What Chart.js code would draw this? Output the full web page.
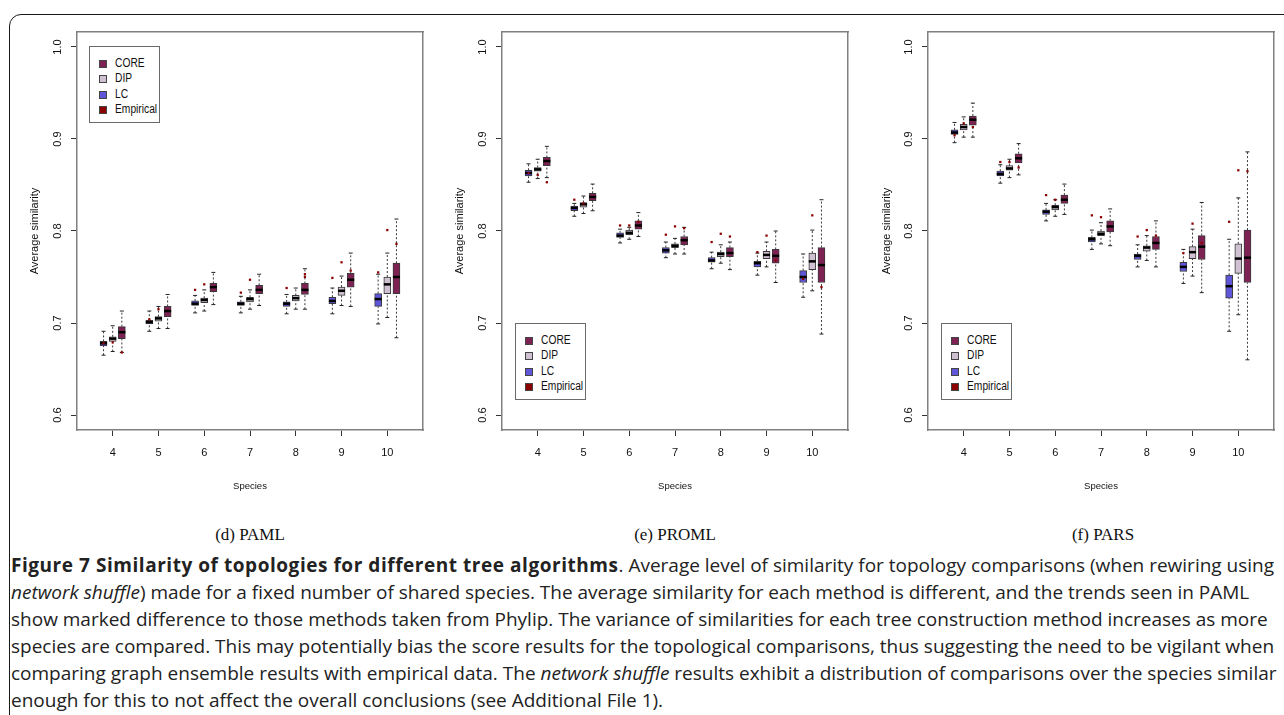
<!DOCTYPE html>
<html>
<head>
<meta charset="utf-8">
<script src="https://cdn.jsdelivr.net/npm/chart.js@4/dist/chart.umd.min.js"></script>
<style>
  html, body { margin:0; padding:0; background:#fff; }
  body { width:1284px; height:715px; position:relative; overflow:hidden; font-family:'Liberation Sans', Arial, sans-serif; }
  #frame { position:absolute; left:9px; top:14px; width:1300px; height:720px; border:1.5px solid #1a1a1a; border-radius:12px; box-sizing:border-box; }
  canvas { position:absolute; top:20px; }
  .legend { position:absolute; width:71px; height:77px; border:1px solid #6a6a6a; background:#fff; box-sizing:border-box; font-family:'Liberation Sans', Arial, sans-serif; font-size:12.5px; color:#111; }
  .legend .row { position:absolute; left:0; height:14px; line-height:14px; white-space:nowrap; }
  .legend .sw { position:absolute; left:9px; top:4px; width:6px; height:6px; border:1px solid #444; }
  .legend .tx { position:absolute; left:25px; top:0; transform:scaleX(0.82); transform-origin:0 50%; }
  .sub { position:absolute; top:535px; transform:translate(-50%,-50%); font-family:'Liberation Serif','Times New Roman',serif; font-size:17px; color:#111; white-space:nowrap; }
  #caption { position:absolute; left:11px; top:552px; font-family:'Open Sans','Noto Sans',sans-serif; font-size:19px; line-height:27px; color:#222; transform-origin:0 0; }
  #caption div { white-space:nowrap; height:27px; }
  #capBold { font-weight:700; }
</style>
</head>
<body>
<div id="frame"></div>
<canvas id="c1" width="420" height="475" style="left:12px"></canvas>
<canvas id="c2" width="418" height="475" style="left:440px"></canvas>
<canvas id="c3" width="418" height="475" style="left:866px"></canvas>

<div id="leg1" class="legend" style="left:89px; top:46px;"></div>
<div id="leg2" class="legend" style="left:515px; top:323px;"></div>
<div id="leg3" class="legend" style="left:941px; top:323px;"></div>

<div class="sub" style="left:250px">(d) PAML</div>
<div class="sub" style="left:675px">(e) PROML</div>
<div class="sub" style="left:1103px">(f) PARS</div>

<div id="caption">
  <div><span id="capBold">Figure 7 Similarity of topologies for different tree algorithms</span><span id="capRest">. Average level of similarity for topology comparisons (when rewiring using</span></div>
  <div><i>network shuffle</i>) made for a fixed number of shared species. The average similarity for each method is different, and the trends seen in PAML</div>
  <div>show marked difference to those methods taken from Phylip. The variance of similarities for each tree construction method increases as more</div>
  <div><span id="capRef">species are compared. This may potentially bias the score results for the topological comparisons, thus suggesting the need to be vigilant when</span></div>
  <div>comparing graph ensemble results with empirical data. The <i>network shuffle</i> results exhibit a distribution of comparisons over the species similar</div>
  <div>enough for this to not affect the overall conclusions (see Additional File 1).</div>
</div>

<script>
// ---------------- data ----------------
const species = [4, 5, 6, 7, 8, 9, 10];
const xTickLabels = ['4', '5', '6', '7', '8', '9', '10'];
const yTicks = [0.6, 0.7, 0.8, 0.9, 1.0];
const yTickLabels = ['0.6', '0.7', '0.8', '0.9', '1.0'];
const legendLabels = ['CORE', 'DIP', 'LC', 'Empirical'];
const methods = ['LC', 'DIP', 'CORE'];

// five-number summaries per species: [lower whisker, Q1, median, Q3, upper whisker]
const pamlLC = [
  [0.665, 0.675, 0.678, 0.680, 0.691], [0.691, 0.699, 0.701, 0.703, 0.713],
  [0.711, 0.719, 0.721, 0.724, 0.730], [0.711, 0.719, 0.721, 0.723, 0.729],
  [0.710, 0.718, 0.721, 0.723, 0.731], [0.710, 0.721, 0.724, 0.728, 0.738],
  [0.699, 0.718, 0.726, 0.732, 0.753]];
const pamlDIP = [
  [0.669, 0.680, 0.683, 0.685, 0.697], [0.694, 0.702, 0.705, 0.707, 0.718],
  [0.713, 0.722, 0.725, 0.727, 0.736], [0.715, 0.723, 0.726, 0.728, 0.736],
  [0.715, 0.724, 0.727, 0.730, 0.738], [0.719, 0.730, 0.735, 0.739, 0.751],
  [0.706, 0.732, 0.742, 0.750, 0.776]];
const pamlCORE = [
  [0.668, 0.683, 0.690, 0.696, 0.713], [0.694, 0.707, 0.713, 0.718, 0.731],
  [0.720, 0.734, 0.739, 0.743, 0.755], [0.719, 0.732, 0.736, 0.741, 0.753],
  [0.715, 0.731, 0.736, 0.743, 0.759], [0.718, 0.739, 0.747, 0.754, 0.776],
  [0.684, 0.732, 0.750, 0.765, 0.813]];
const pamlEmpirical = [
  [4, 'LC', 0.678], [4, 'DIP', 0.679], [4, 'CORE', 0.668],
  [5, 'LC', 0.704], [5, 'DIP', 0.715],
  [6, 'LC', 0.736], [6, 'DIP', 0.742],
  [7, 'LC', 0.733], [7, 'DIP', 0.747],
  [8, 'LC', 0.738], [8, 'CORE', 0.753], [8, 'CORE', 0.750],
  [9, 'LC', 0.749], [9, 'DIP', 0.766], [9, 'CORE', 0.757],
  [10, 'LC', 0.755], [10, 'DIP', 0.801], [10, 'CORE', 0.786]];

const promlLC = [
  [0.853, 0.860, 0.863, 0.866, 0.873], [0.816, 0.822, 0.825, 0.827, 0.830],
  [0.787, 0.793, 0.795, 0.798, 0.802], [0.771, 0.776, 0.779, 0.782, 0.788],
  [0.759, 0.766, 0.768, 0.771, 0.777], [0.752, 0.761, 0.765, 0.767, 0.776],
  [0.728, 0.744, 0.750, 0.757, 0.775]];
const promlDIP = [
  [0.857, 0.865, 0.867, 0.869, 0.878], [0.819, 0.826, 0.829, 0.831, 0.838],
  [0.791, 0.796, 0.798, 0.801, 0.804], [0.775, 0.782, 0.784, 0.786, 0.792],
  [0.765, 0.772, 0.775, 0.777, 0.785], [0.761, 0.770, 0.774, 0.778, 0.788],
  [0.735, 0.758, 0.767, 0.776, 0.801]];
const promlCORE = [
  [0.858, 0.871, 0.876, 0.880, 0.892], [0.822, 0.833, 0.837, 0.841, 0.851],
  [0.794, 0.802, 0.806, 0.811, 0.820], [0.775, 0.785, 0.790, 0.794, 0.804],
  [0.758, 0.772, 0.776, 0.782, 0.788], [0.744, 0.765, 0.773, 0.780, 0.800],
  [0.688, 0.744, 0.763, 0.782, 0.834]];
const promlEmpirical = [
  [4, 'LC', 0.863], [4, 'DIP', 0.861], [4, 'CORE', 0.853],
  [5, 'LC', 0.834], [5, 'DIP', 0.830],
  [6, 'LC', 0.806], [6, 'DIP', 0.806], [6, 'CORE', 0.810],
  [7, 'LC', 0.796], [7, 'DIP', 0.805], [7, 'CORE', 0.803],
  [8, 'LC', 0.788], [8, 'DIP', 0.797], [8, 'CORE', 0.794],
  [9, 'LC', 0.777], [9, 'DIP', 0.795], [9, 'CORE', 0.768],
  [10, 'LC', 0.748], [10, 'DIP', 0.817], [10, 'CORE', 0.739]];

const parsLC = [
  [0.896, 0.905, 0.907, 0.910, 0.918], [0.852, 0.860, 0.862, 0.865, 0.872],
  [0.811, 0.818, 0.821, 0.823, 0.830], [0.780, 0.788, 0.791, 0.793, 0.801],
  [0.761, 0.769, 0.773, 0.775, 0.785], [0.743, 0.756, 0.761, 0.766, 0.780],
  [0.691, 0.727, 0.740, 0.752, 0.791]];
const parsDIP = [
  [0.902, 0.910, 0.913, 0.916, 0.924], [0.858, 0.866, 0.868, 0.871, 0.878],
  [0.816, 0.823, 0.826, 0.828, 0.834], [0.786, 0.795, 0.797, 0.800, 0.809],
  [0.768, 0.778, 0.782, 0.784, 0.795], [0.751, 0.770, 0.777, 0.783, 0.802],
  [0.709, 0.754, 0.770, 0.786, 0.836]];
const parsCORE = [
  [0.902, 0.915, 0.921, 0.925, 0.939], [0.861, 0.874, 0.879, 0.884, 0.895],
  [0.818, 0.830, 0.834, 0.839, 0.851], [0.784, 0.799, 0.805, 0.811, 0.824],
  [0.761, 0.780, 0.787, 0.794, 0.811], [0.733, 0.769, 0.783, 0.795, 0.831],
  [0.660, 0.744, 0.771, 0.801, 0.886]];
const parsEmpirical = [
  [4, 'LC', 0.904], [4, 'DIP', 0.917], [4, 'CORE', 0.913],
  [5, 'LC', 0.875], [5, 'DIP', 0.875], [5, 'CORE', 0.869],
  [6, 'LC', 0.839], [6, 'DIP', 0.834],
  [7, 'LC', 0.817], [7, 'DIP', 0.815],
  [8, 'LC', 0.794], [8, 'DIP', 0.801], [8, 'CORE', 0.795],
  [9, 'LC', 0.776], [9, 'DIP', 0.808], [9, 'CORE', 0.787],
  [10, 'LC', 0.810], [10, 'DIP', 0.866], [10, 'CORE', 0.865]];

// ---------------- styling ----------------
const methodOffset = { LC: -0.2, DIP: 0, CORE: 0.2 };
const colors = { CORE: '#7E2253', DIP: '#CFC1D2', LC: '#5E55D8', Empirical: '#8B0000' };
const FONT = "'Liberation Sans', Arial, sans-serif";

function buildDatasets(stats, empirical) {
  const ds = [];
  methods.forEach(m => {
    const s = stats[m];
    const off = methodOffset[m];
    const whiskers = [];
    const caps = [];
    species.forEach((g, i) => {
      const x = g + off;
      whiskers.push({x, y: s[i][0]}, {x, y: s[i][1]}, {x, y: null},
                    {x, y: s[i][3]}, {x, y: s[i][4]}, {x, y: null});
      caps.push({x, y: s[i][0]}, {x, y: s[i][4]});
    });
    ds.push({ type: 'line', label: m + ' whisker', data: whiskers, borderColor: '#3a3a3a',
      borderWidth: 1, borderDash: [2, 2], pointRadius: 0, spanGaps: false, order: 5 });
    ds.push({ type: 'scatter', label: m + ' cap', data: caps, pointStyle: 'line', pointRadius: 2,
      borderColor: '#222', borderWidth: 1, order: 4 });
    ds.push({ type: 'bar', label: m, data: species.map((g, i) => ({x: g + off, y: [s[i][1], s[i][3]]})),
      backgroundColor: colors[m], borderColor: '#3a3a3a', borderWidth: 1, borderSkipped: false,
      barThickness: 7, grouped: false, order: 3 });
    ds.push({ type: 'scatter', label: m + ' median', data: species.map((g, i) => ({x: g + off, y: s[i][2]})),
      pointStyle: 'line', pointRadius: 3.5, borderColor: '#000', borderWidth: 2.5, order: 2 });
  });
  ds.push({ type: 'scatter', label: 'Empirical',
    data: empirical.map(([g, m, v]) => ({x: g + methodOffset[m], y: v})),
    pointStyle: 'rect', pointRadius: 1.6, backgroundColor: colors.Empirical, borderWidth: 0, order: 1 });
  return ds;
}

function makeChart(id, stats, empirical, cfg) {
  new Chart(document.getElementById(id), {
    type: 'bar',
    data: { datasets: buildDatasets(stats, empirical) },
    options: {
      responsive: false, animation: false, devicePixelRatio: 1,
      layout: { padding: { top: 12, right: cfg.padRight, left: 0, bottom: 0 } },
      plugins: { legend: { display: false }, tooltip: { enabled: false } },
      scales: {
        x: {
          type: 'linear', position: 'bottom', min: 3.22, max: 10.78, offset: false,
          afterBuildTicks: s => { s.ticks = species.map(v => ({value: v})); },
          afterFit: s => { s.height = 65; },
          ticks: { callback: (v, i) => xTickLabels[i], autoSkip: false, maxRotation: 0,
            padding: 10, color: '#111', font: { family: FONT, size: 11 } },
          grid: { display: true, drawOnChartArea: false, drawTicks: true, tickLength: 6, color: '#333', offset: false },
          border: { display: true, color: '#808080', width: 1.5 },
          title: { display: true, text: 'Species', color: '#111',
            font: { family: FONT, size: 9.5 }, padding: { top: 0, bottom: 3 } }
        },
        y: {
          type: 'linear', position: 'left', min: 0.5837, max: 1.0163,
          afterBuildTicks: s => { s.ticks = yTicks.map(v => ({value: v})); },
          afterFit: s => { s.width = cfg.yWidth; },
          ticks: { callback: (v, i) => yTickLabels[i], minRotation: 90, maxRotation: 90,
            crossAlign: 'center', padding: 5, color: '#111', font: { family: FONT, size: 11 } },
          grid: { display: true, drawOnChartArea: false, drawTicks: true, tickLength: 6, color: '#333' },
          border: { display: true, color: '#808080', width: 1.5 },
          title: { display: true, text: 'Average similarity', color: '#111',
            font: { family: FONT, size: 11 }, padding: { top: cfg.titlePad, bottom: 0 } }
        },
        xTop: {
          type: 'linear', position: 'top', min: 3.22, max: 10.78,
          afterFit: s => { s.height = 0; },
          ticks: { display: false }, grid: { display: false },
          border: { display: true, color: '#808080', width: 1.5 }
        },
        yRight: {
          type: 'linear', position: 'right', min: 0.5837, max: 1.0163,
          afterFit: s => { s.width = 0; },
          ticks: { display: false }, grid: { display: false },
          border: { display: true, color: '#808080', width: 1.5 }
        }
      }
    }
  });
}

makeChart('c1', { LC: pamlLC, DIP: pamlDIP, CORE: pamlCORE }, pamlEmpirical,
  { padRight: 9, yWidth: 65, titlePad: 16.4 });
makeChart('c2', { LC: promlLC, DIP: promlDIP, CORE: promlCORE }, promlEmpirical,
  { padRight: 10, yWidth: 62, titlePad: 13.4 });
makeChart('c3', { LC: parsLC, DIP: parsDIP, CORE: parsCORE }, parsEmpirical,
  { padRight: 10, yWidth: 62, titlePad: 14.4 });

// legends (HTML boxes inside the plots)
['leg1', 'leg2', 'leg3'].forEach(id => {
  const box = document.getElementById(id);
  legendLabels.forEach((lab, i) => {
    const row = document.createElement('div');
    row.className = 'row';
    row.style.top = (9 + i * 15.4) + 'px';
    row.style.width = '100%';
    const sw = document.createElement('span');
    sw.className = 'sw';
    sw.style.background = colors[lab];
    const tx = document.createElement('span');
    tx.className = 'tx';
    tx.textContent = lab;
    row.appendChild(sw); row.appendChild(tx);
    box.appendChild(row);
  });
});

// fit caption width (condensed like the original)
function fitCaption() {
  const cap = document.getElementById('caption');
  const ref = document.getElementById('capRef');
  const bold = document.getElementById('capBold');
  const rest = document.getElementById('capRest');
  cap.style.transform = 'none';
  bold.style.letterSpacing = '0px';
  const w = ref.getBoundingClientRect().width;
  if (!(w > 0)) return;
  const s = 1263 / w;
  const wb = bold.getBoundingClientRect().width;
  const wr = rest.getBoundingClientRect().width;
  const targetBold = 1263 / s - wr;
  const n = bold.textContent.length;
  bold.style.letterSpacing = ((targetBold - wb) / n).toFixed(3) + 'px';
  cap.style.transform = 'scaleX(' + s.toFixed(4) + ')';
}
fitCaption();
if (document.fonts && document.fonts.ready) document.fonts.ready.then(fitCaption);
</script>
</body>
</html>
